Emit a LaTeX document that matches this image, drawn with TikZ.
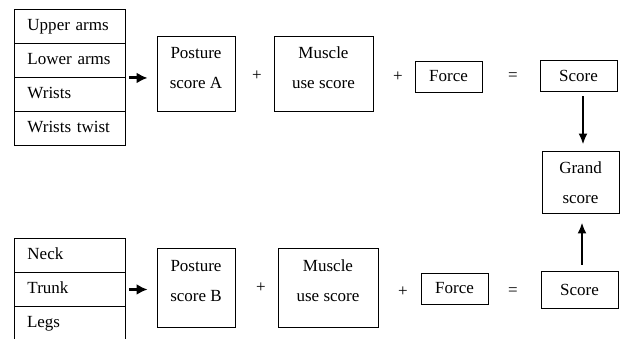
\documentclass[tikz,border=0pt]{standalone}
\usepackage{fontspec}
\setmainfont{Liberation Serif}
\usetikzlibrary{arrows.meta}
\tikzset{
  every node/.style={font=\fontsize{17}{30}\selectfont},
  box/.style={draw, line width=0.95pt, rectangle, inner sep=0pt},
  cell/.style={box, minimum width=111pt, minimum height=34pt, anchor=north west,
    text width=85pt, align=left, inner xsep=13pt, text height=12pt, text depth=4pt},
  opencell/.style={cell, draw=none, outer sep=0pt},
  lbl/.style={align=center, inner sep=0pt},
  sym/.style={inner sep=0pt},
  thickarr/.style={line width=3pt, -{Latex[length=11pt,width=11pt]}},
  varr/.style={line width=2pt, -{Latex[length=11pt,width=9pt]}}
}
\begin{document}
\begin{tikzpicture}[x=1pt, y=-1pt]
\useasboundingbox (0,0) rectangle (620,339);

% body-part lists, group A
\node[cell] (ua) at (14,9)   {Upper arms};
\node[cell] (la) at (14,43)  {Lower arms};
\node[cell] (wr) at (14,77)  {Wrists};
\node[cell] (wt) at (14,111) {Wrists twist};

% body-part lists, group B (the last cell runs off the bottom edge)
\node[cell] (nk) at (14,238) {Neck};
\node[cell] (tr) at (14,272) {Trunk};
\node[opencell] (lg) at (14,306) {Legs};
\draw[line width=0.95pt] (lg.south west) -- (lg.north west) -- (lg.north east) -- (lg.south east);

% upper equation
\node[box, minimum width=78pt, minimum height=75pt] (pA) at (196,73.5) {};
\node[lbl] (pAt) at ([yshift=5.5pt]pA.center) {Posture\\score A};
\node[sym] (p1) at (257,76) {+};
\node[box, minimum width=99pt, minimum height=75pt] (mA) at (323.5,73.5) {};
\node[lbl] (mAt) at ([yshift=6pt]mA.center) {Muscle\\use score};
\node[sym] (p2) at (398,77) {+};
\node[box, minimum width=67pt, minimum height=31pt] (fA) at (448.5,76.5) {Force};
\node[sym] (e1) at (513,77) {=};
\node[box, minimum width=77pt, minimum height=31pt] (sA) at (578.5,75.5) {Score};

% grand score
\node[box, minimum width=77pt, minimum height=62pt] (gs) at (580.5,182) {};
\node[lbl] (gst) at ([yshift=-1pt]gs.center) {Grand\\score};

% lower equation
\node[box, minimum width=78pt, minimum height=79pt] (pB) at (196,287.5) {};
\node[lbl] (pBt) at ([yshift=6.5pt]pB.center) {Posture\\score B};
\node[sym] (p3) at (261,288) {+};
\node[box, minimum width=100pt, minimum height=79pt] (mB) at (328,287.5) {};
\node[lbl] (mBt) at ([yshift=7pt]mB.center) {Muscle\\use score};
\node[sym] (p4) at (403,292) {+};
\node[box, minimum width=67pt, minimum height=31pt] (fB) at (454.5,288.5) {Force};
\node[sym] (e2) at (513,292) {=};
\node[box, minimum width=77pt, minimum height=37pt] (sB) at (579.5,289.5) {Score};

% connectors
\draw[thickarr, shorten <=3pt, shorten >=9pt] (la.south east) -- (pA.west |- la.south east);
\draw[thickarr, shorten <=3pt, shorten >=9pt] (tr.east) -- (pB.west |- tr.east);
\coordinate (xd) at (583,0);
\coordinate (xu) at (582,0);
\draw[varr, shorten <=5pt, shorten >=6pt] (sA.south -| xd) -- (gs.north -| xd);
\draw[varr, shorten <=6pt, shorten >=9pt] (sB.north -| xu) -- (gs.south -| xu);
\end{tikzpicture}
\end{document}
